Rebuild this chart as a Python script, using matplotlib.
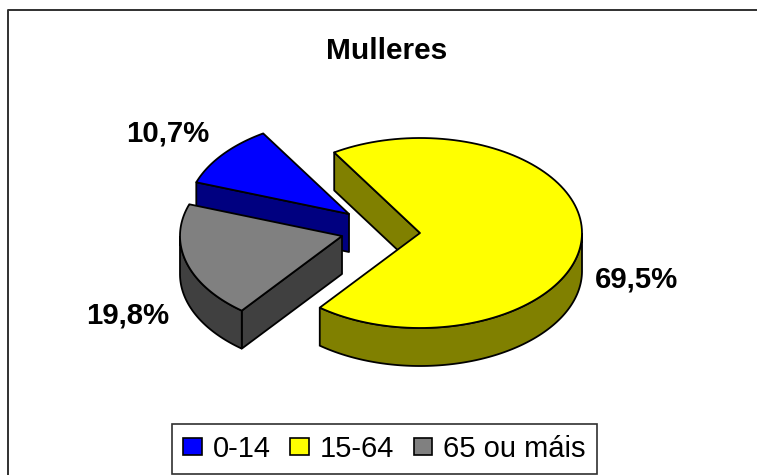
import numpy as np
import matplotlib
matplotlib.use('Agg')
import matplotlib.pyplot as plt
from matplotlib.patches import Polygon, Patch

plt.rcParams['font.family'] = ['Liberation Sans', 'DejaVu Sans']

title = 'Mulleres'
categories = ['0-14', '15-64', '65 ou máis']
values = [10.7, 69.5, 19.8]

top_colors = ['#0000ff', '#ffff00', '#808080']
side_colors = ['#000080', '#808000', '#404040']
centers = [(349, 214), (420, 233), (342, 236)]
label_pos = [(168, 142), (636.5, 287), (128, 323)]

start_angle = 160.5
rx, ry, depth = 162, 95, 38
lw = 1.3


def arc(center, a0, a1, dz=0):
    t = np.radians(np.linspace(a0, a1, 120))
    return np.column_stack([center[0] + rx * np.cos(t), center[1] - ry * np.sin(t) + dz])


def radial_wall(ax, center, a, side):
    p = arc(center, a, a)[0]
    wall = [p, center, (center[0], center[1] + depth), (p[0], p[1] + depth)]
    ax.add_patch(Polygon(wall, fc=side, ec='black', lw=lw, joinstyle='round'))


def draw_slice(ax, center, a0, a1, top, side):
    # a0 > a1, goes clockwise. only the walls facing the viewer, top face over them
    if np.cos(np.radians(a0)) < 0:
        radial_wall(ax, center, a0, side)
    if np.cos(np.radians(a1)) > 0:
        radial_wall(ax, center, a1, side)
    # outer wall only on the front half of the ellipse
    for k in (-1, 0):
        lo = max(a1, 180 + 360 * k)
        hi = min(a0, 360 + 360 * k)
        if lo < hi:
            edge = arc(center, hi, lo)
            lower = arc(center, lo, hi, depth)
            ax.add_patch(Polygon(np.vstack([edge, lower]), fc=side, ec='black', lw=lw))
    face = np.vstack([[center], arc(center, a0, a1)])
    ax.add_patch(Polygon(face, fc=top, ec='black', lw=lw, joinstyle='round'))


fig = plt.figure(figsize=(7.57, 4.75), dpi=100)
ax = fig.add_axes([0, 0, 1, 1])
ax.set_xlim(0, 757)
ax.set_ylim(475, 0)
ax.axis('off')

# chart border, cut by the image on right and bottom
ax.plot([7.5, 7.5, 757], [475, 10, 10], color='#303030', lw=1.4)

a = start_angle
bounds = []
for v in values:
    bounds.append((a, a - v * 3.6))
    a -= v * 3.6

for i in (0, 1, 2):
    draw_slice(ax, centers[i], bounds[i][0], bounds[i][1], top_colors[i], side_colors[i])

for v, pos in zip(values, label_pos):
    ax.text(pos[0], pos[1], f'{v:.1f}%'.replace('.', ','), fontsize=21.2, fontweight='bold',
            ha='center', va='baseline', color='black')

ax.text(387, 59, title, fontsize=21.5, fontweight='bold', ha='center', va='baseline')

handles = [Patch(fc=c, ec='black', lw=1.2) for c in top_colors]
leg = ax.legend(handles, categories, ncol=3, loc='center', bbox_to_anchor=(384.5, 449),
                bbox_transform=ax.transData, fontsize=21, frameon=True, fancybox=False,
                edgecolor='#303030', framealpha=1, handlelength=0.62, handleheight=0.55,
                handletextpad=0.38, columnspacing=0.68, borderpad=0.38, borderaxespad=0)
leg.get_frame().set_linewidth(1.2)

fig.savefig('out.png', dpi=100)
